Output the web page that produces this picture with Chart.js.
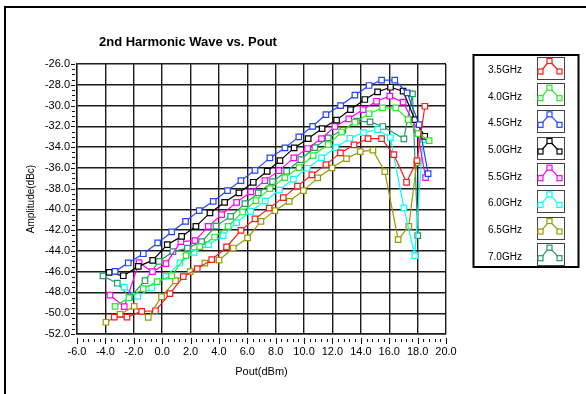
<!DOCTYPE html>
<html>
<head>
<meta charset="utf-8">
<title>2nd Harmonic Wave vs. Pout</title>
<script src="https://cdn.jsdelivr.net/npm/chart.js@4.4.1/dist/chart.umd.min.js"></script>
<style>
  html, body { margin: 0; padding: 0; background: #fff; }
  #wrap { width: 586px; height: 394px; }
</style>
</head>
<body>
<div id="wrap"><canvas id="harmonicChart" width="586" height="394"></canvas></div>
<script>
const chartTitle = '2nd Harmonic Wave vs. Pout';
const xTitle = 'Pout(dBm)';
const yTitle = 'Amplitude(dBc)';

// axis tick labels
const xTicks = [-6, -4, -2, 0, 2, 4, 6, 8, 10, 12, 14, 16, 18, 20];
const yTicks = [-52, -50, -48, -46, -44, -42, -40, -38, -36, -34, -32, -30, -28, -26];

const seriesNames = ['3.5GHz', '4.0GHz', '4.5GHz', '5.0GHz', '5.5GHz', '6.0GHz', '6.5GHz', '7.0GHz'];
const seriesColors = ['#ff1a1a', '#22ee22', '#2244ff', '#000000', '#ff00ff', '#00ffff', '#999900', '#229966'];

// Pout (dBm) / amplitude (dBc) per frequency
const pout35 = [-3.37, -2.48, -1.44, -0.47, 0.55, 1.49, 2.47, 3.49, 4.54, 5.55, 6.54, 7.54, 8.53, 9.53, 10.55, 11.54, 12.56, 13.52, 14.51, 15.46, 16.32, 17.22, 17.96, 18.51];
const amp35  = [-50.37, -50.37, -49.83, -49.76, -48.12, -46.48, -45.71, -44.84, -43.62, -42.02, -40.92, -39.88, -38.87, -37.76, -36.68, -35.69, -34.56, -33.79, -33.18, -33.18, -34.72, -37.39, -35.30, -30.07];

const pout40 = [-3.32, -2.34, -1.33, -0.35, 0.67, 1.68, 2.65, 3.7, 4.65, 5.67, 6.61, 7.59, 8.65, 9.65, 10.64, 11.70, 12.64, 13.58, 14.58, 15.53, 16.46, 17.33, 18.04, 18.81];
const amp40  = [-49.34, -48.51, -47.64, -46.96, -46.39, -44.46, -43.59, -42.66, -41.63, -40.25, -39.16, -38.0, -36.94, -35.98, -34.82, -33.76, -32.55, -31.61, -30.79, -30.22, -30.22, -31.35, -32.70, -33.37];

const pout45 = [-3.32, -2.39, -1.33, -0.32, 0.67, 1.65, 2.61, 3.60, 4.61, 5.55, 6.54, 7.59, 8.65, 9.63, 10.60, 11.54, 12.57, 13.58, 14.58, 15.46, 16.39, 17.26, 18.11, 18.74];
const amp45  = [-45.97, -45.16, -44.27, -43.23, -42.17, -41.15, -40.12, -39.22, -38.19, -37.23, -36.24, -35.04, -34.08, -33.02, -32.0, -30.87, -30.0, -29.0, -28.07, -27.56, -27.56, -28.78, -31.83, -36.55];

const pout50 = [-3.73, -2.74, -1.68, -0.67, 0.36, 1.37, 2.38, 3.37, 4.4, 5.41, 6.42, 7.40, 8.30, 9.30, 10.29, 11.27, 12.29, 13.27, 14.28, 15.18, 16.09, 16.98, 17.8, 18.5];
const amp50  = [-46.07, -46.39, -45.49, -44.91, -43.40, -42.60, -41.63, -40.34, -39.32, -38.41, -37.39, -36.33, -35.30, -34.08, -33.18, -32.22, -31.40, -30.39, -29.42, -28.68, -28.24, -28.62, -31.35, -32.96];

const pout55 = [-3.68, -2.67, -1.63, -0.68, 0.27, 1.32, 2.31, 3.25, 4.19, 5.25, 6.25, 7.24, 8.23, 9.28, 10.25, 11.23, 12.17, 13.15, 14.16, 15.11, 16.04, 16.98, 17.96, 18.56];
const amp55  = [-48.25, -49.37, -45.13, -46.0, -45.23, -43.11, -43.01, -41.63, -40.51, -39.32, -38.32, -37.23, -36.27, -35.04, -34.14, -33.18, -32.02, -31.28, -30.39, -29.59, -29.10, -29.68, -32.31, -36.94];

const pout60 = [-2.67, -1.73, -0.74, 0.27, 1.25, 2.24, 3.26, 4.30, 5.25, 6.23, 7.26, 8.26, 9.25, 10.23, 11.23, 12.24, 13.23, 14.18, 15.18, 16.08, 17.03, 17.80, 18.37];
const amp60  = [-47.49, -48.38, -47.57, -46.45, -45.16, -44.14, -43.40, -42.53, -41.28, -40.19, -39.20, -38.14, -37.08, -36.04, -35.04, -34.05, -33.15, -32.60, -32.31, -33.08, -39.86, -44.46, -33.28];

const pout65 = [-3.96, -2.97, -1.97, -0.98, -0.04, 0.94, 1.98, 3.01, 4.01, 5.01, 6.02, 6.96, 7.94, 8.95, 9.95, 10.96, 11.97, 12.99, 13.96, 14.85, 15.69, 16.63, 17.38, 17.94];
const amp65  = [-50.87, -50.10, -49.34, -50.39, -48.41, -46.87, -46.0, -45.18, -44.89, -43.72, -42.75, -41.15, -40.12, -39.22, -38.19, -36.97, -36.0, -35.11, -34.43, -34.29, -36.36, -42.92, -41.63, -35.49];

const pout70 = [-4.17, -3.16, -2.27, -1.21, -0.23, 0.76, 1.78, 2.78, 3.79, 4.82, 5.83, 6.77, 7.78, 8.77, 9.77, 10.76, 11.70, 12.73, 13.70, 14.65, 15.55, 17.03, 17.64, 18.01];
const amp70  = [-46.41, -47.11, -48.48, -46.87, -45.01, -44.07, -43.73, -43.11, -41.61, -40.67, -39.45, -38.41, -37.33, -36.33, -35.20, -34.05, -33.11, -32.36, -31.51, -31.57, -32.02, -33.21, -28.87, -42.53];

const poutSets = [pout35, pout40, pout45, pout50, pout55, pout60, pout65, pout70];
const ampSets = [amp35, amp40, amp45, amp50, amp55, amp60, amp65, amp70];

const fontFamily = '"Liberation Sans", Arial, sans-serif';

// frame, title, minor ticks and the boxed legend
const decorations = {
    id: 'decorations',
    afterDraw(chart) {
        const c = chart.ctx;
        const x = chart.scales.x;
        const y = chart.scales.y;
        const area = chart.chartArea;
        c.save();

        // outer frame
        c.strokeStyle = '#000';
        c.lineWidth = 2;
        c.strokeRect(5, 7, 640, 420);

        // title
        c.fillStyle = '#000';
        c.font = 'bold 13px ' + fontFamily;
        c.textAlign = 'left';
        c.textBaseline = 'alphabetic';
        c.fillText(chartTitle, 99, 46);

        // tick marks outside the plot
        c.lineWidth = 1;
        c.strokeStyle = '#111';
        for (let v = xTicks[0]; v <= xTicks[xTicks.length - 1] + 1e-6; v += 0.4) {
            const px = Math.round(x.getPixelForValue(v)) + 0.5;
            const major = Math.abs(v / 2 - Math.round(v / 2)) < 1e-6;
            c.beginPath();
            c.moveTo(px, area.bottom + (major ? 4 : 5));
            c.lineTo(px, area.bottom + (major ? 10 : 8));
            c.stroke();
        }
        for (let v = yTicks[0]; v <= yTicks[yTicks.length - 1] + 1e-6; v += 0.5) {
            const py = Math.round(y.getPixelForValue(v)) + 0.5;
            const major = Math.abs(v / 2 - Math.round(v / 2)) < 1e-6;
            c.beginPath();
            c.moveTo(area.left - (major ? 6 : 5), py);
            c.lineTo(area.left - 2, py);
            c.stroke();
        }

        // legend box
        c.lineWidth = 2;
        c.strokeStyle = '#000';
        c.strokeRect(473.5, 55, 105, 212);
        chart.data.datasets.forEach((ds, i) => {
            const top = 56.5 + i * 26.67;
            c.fillStyle = '#000';
            c.font = '10px ' + fontFamily;
            c.fillText(ds.label, 488, top + 16.5);
            c.lineWidth = 1;
            c.strokeStyle = '#444';
            c.strokeRect(537.5, Math.round(top) + 0.5, 27, 22);
            const pts = [[540.5, top + 15], [549.5, top + 4.5], [559.5, top + 15]];
            c.strokeStyle = ds.borderColor;
            c.lineWidth = 1.2;
            c.beginPath();
            pts.forEach((p, k) => (k ? c.lineTo(p[0], p[1]) : c.moveTo(p[0], p[1])));
            c.stroke();
            pts.forEach(p => {
                c.fillStyle = '#fff';
                c.fillRect(p[0] - 2.5, p[1] - 2.5, 5, 5);
                c.strokeRect(p[0] - 2.5, p[1] - 2.5, 5, 5);
            });
        });
        c.restore();
    }
};

document.addEventListener('DOMContentLoaded', () => {
    const ctx = document.getElementById('harmonicChart').getContext('2d');
    Chart.defaults.font.family = fontFamily;
    Chart.defaults.color = '#000';

    const datasets = seriesNames.map((name, i) => ({
        label: name,
        data: poutSets[i].map((p, k) => ({ x: p, y: ampSets[i][k] })),
        borderColor: seriesColors[i],
        backgroundColor: '#ffffff',
        borderWidth: 1.2,
        showLine: true,
        pointStyle: 'rect',
        pointRadius: 3.9,
        pointBorderWidth: 1.2,
        pointBackgroundColor: '#ffffff',
        pointBorderColor: seriesColors[i]
    }));

    new Chart(ctx, {
        type: 'scatter',
        data: { datasets: datasets },
        options: {
            responsive: false,
            animation: false,
            layout: { padding: { left: 0, top: 64, right: 140, bottom: 0 } },
            plugins: {
                legend: { display: false },
                tooltip: { enabled: false },
                title: { display: false }
            },
            scales: {
                x: {
                    type: 'linear',
                    min: -6,
                    max: 20,
                    afterFit(scale) { scale.height = 60; },
                    afterBuildTicks(scale) { scale.ticks = xTicks.map(v => ({ value: v })); },
                    ticks: {
                        padding: 3,
                        font: { size: 11 },
                        color: '#000',
                        maxRotation: 0,
                        autoSkip: false,
                        callback: v => Number(v).toFixed(1)
                    },
                    grid: { color: '#1a1a1a', lineWidth: 1.4, tickLength: 8, tickColor: 'rgba(0,0,0,0)' },
                    border: { color: '#1a1a1a', width: 1.4 },
                    title: { display: true, text: xTitle, font: { size: 11 }, color: '#000', padding: { top: 0, bottom: 15 } }
                },
                y: {
                    type: 'linear',
                    min: -52,
                    max: -26,
                    afterFit(scale) { scale.width = 77; },
                    afterBuildTicks(scale) { scale.ticks = yTicks.map(v => ({ value: v })); },
                    ticks: {
                        padding: 3,
                        font: { size: 11 },
                        color: '#000',
                        autoSkip: false,
                        callback: v => Number(v).toFixed(1)
                    },
                    grid: { color: '#1a1a1a', lineWidth: 1.4, tickLength: 4, tickColor: 'rgba(0,0,0,0)' },
                    border: { color: '#1a1a1a', width: 1.4 },
                    title: { display: true, text: yTitle, font: { size: 10 }, color: '#000', padding: { top: 25, bottom: 0 } }
                }
            }
        },
        plugins: [decorations]
    });
});
</script>
</body>
</html>
